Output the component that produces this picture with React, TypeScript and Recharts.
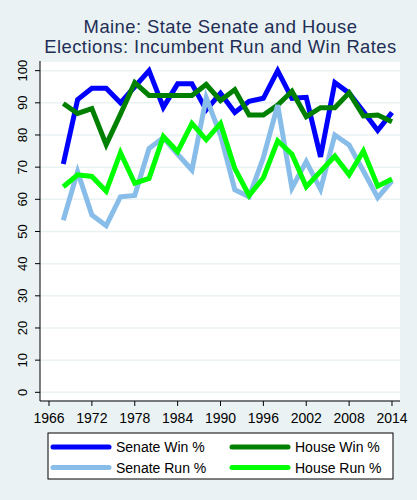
import React from 'react';
import { LineChart, Line, XAxis, YAxis, CartesianGrid } from 'recharts';

const years = [
  1968, 1970, 1972, 1974, 1976, 1978, 1980, 1982, 1984, 1986, 1988, 1990,
  1992, 1994, 1996, 1998, 2000, 2002, 2004, 2006, 2008, 2010, 2012, 2014,
];

const senateWin = [
  71, 91, 94.5, 94.5, 90, 95, 100, 88.6, 95.9, 95.9, 87.8, 93,
  87, 90.5, 91.4, 100, 91.4, 91.7, 73.2, 96.3, 93, 87.3, 81.4, 87,
];
const houseWin = [
  89.8, 86.7, 88.2, 77, 86.5, 96.3, 92.3, 92.3, 92.3, 92.3, 95.7, 90.7,
  94.1, 86.2, 86.2, 89.3, 93.6, 85.7, 88.5, 88.5, 93.1, 85.9, 86.2, 84.1,
];
const senateRun = [
  53.5, 68.6, 55.1, 51.8, 60.8, 61.2, 75.8, 79.2, 74, 69.1, 91.6, 80,
  63, 60.8, 73, 89.3, 63.5, 71.7, 63.1, 80, 76.9, 68.8, 60.5, 65.7,
];
const houseRun = [
  63.9, 67.6, 67.1, 62.5, 74.5, 65, 66.5, 79.5, 74.8, 83.6, 78.5, 83.6,
  69.6, 61.2, 66.7, 78.2, 74, 63.9, 68.7, 73.4, 67.6, 75, 64.1, 66.3,
];

const xTicks = [1966, 1972, 1978, 1984, 1990, 1996, 2002, 2008, 2014];
const yTicks = [0, 10, 20, 30, 40, 50, 60, 70, 80, 90, 100];

const titleLines = ['Maine: State Senate and House', 'Elections: Incumbent Run and Win Rates'];

// drawing order: Senate Win, House Win, Senate Run, House Run
const series = [
  { key: 'senateWin', name: 'Senate Win %', color: '#0000ff' },
  { key: 'houseWin', name: 'House Win %', color: '#008000' },
  { key: 'senateRun', name: 'Senate Run %', color: '#87bde8' },
  { key: 'houseRun', name: 'House Run %', color: '#00ff00' },
];

const data = years.map((year, i) => ({
  year,
  senateWin: senateWin[i],
  houseWin: houseWin[i],
  senateRun: senateRun[i],
  houseRun: houseRun[i],
}));

const font = '"Liberation Sans", Arial, sans-serif';
const bg = '#eaf2f3';

const YTick = (props: any) => {
  const { y, payload } = props;
  return (
    <text
      x={27}
      y={y}
      transform={`rotate(-90, 27, ${y})`}
      textAnchor="middle"
      fontSize={13}
      fontFamily={font}
      fill="#000"
    >
      {payload.value}
    </text>
  );
};

export default function App() {
  return (
    <div style={{ position: 'fixed', left: 0, top: 0, width: 417, height: 500, background: bg }}>
      <LineChart
        width={417}
        height={500}
        data={data}
        margin={{ top: 61, right: 17, bottom: 69, left: 0 }}
      >
        <CartesianGrid fill="#ffffff" stroke={bg} strokeWidth={1.5} vertical={false} />
        <XAxis
          dataKey="year"
          type="number"
          domain={[1964.74, 2015.12]}
          allowDataOverflow
          ticks={xTicks}
          height={30}
          tickSize={5}
          tickMargin={7}
          stroke="#000"
          tick={{ fill: '#000', fontSize: 14, fontFamily: font }}
        />
        <YAxis
          type="number"
          domain={[-2.7, 103]}
          allowDataOverflow
          ticks={yTicks}
          width={40}
          tickSize={5}
          stroke="#000"
          tick={<YTick />}
        />
        {series.map(s => (
          <Line
            key={s.key}
            dataKey={s.key}
            name={s.name}
            stroke={s.color}
            strokeWidth={5}
            dot={false}
            activeDot={false}
            isAnimationActive={false}
            type="linear"
          />
        ))}
      </LineChart>
      <svg
        width={417}
        height={500}
        style={{ position: 'absolute', left: 0, top: 0, pointerEvents: 'none' }}
      >
        {titleLines.map((t, i) => (
          <text
            key={t}
            x={220.5}
            y={33.3 + i * 20}
            textAnchor="middle"
            fontSize={18.4}
            letterSpacing={0.45}
            fontFamily={font}
            fill="#1f2e55"
          >
            {t}
          </text>
        ))}
        <rect x={48} y={433} width={345} height={46} fill="#fff" stroke="#000" strokeWidth={1} />
        {series.map((s, i) => {
          const col = i % 2;
          const row = Math.floor(i / 2);
          const lx = col === 0 ? 53 : 232;
          const ly = 447 + row * 20.5;
          return (
            <g key={s.key}>
              <line x1={lx} x2={lx + 56} y1={ly} y2={ly} stroke={s.color} strokeWidth={5} strokeLinecap="round" />
              <text x={lx + 63} y={ly + 5} fontSize={14} fontFamily={font} fill="#000">
                {s.name}
              </text>
            </g>
          );
        })}
      </svg>
    </div>
  );
}
